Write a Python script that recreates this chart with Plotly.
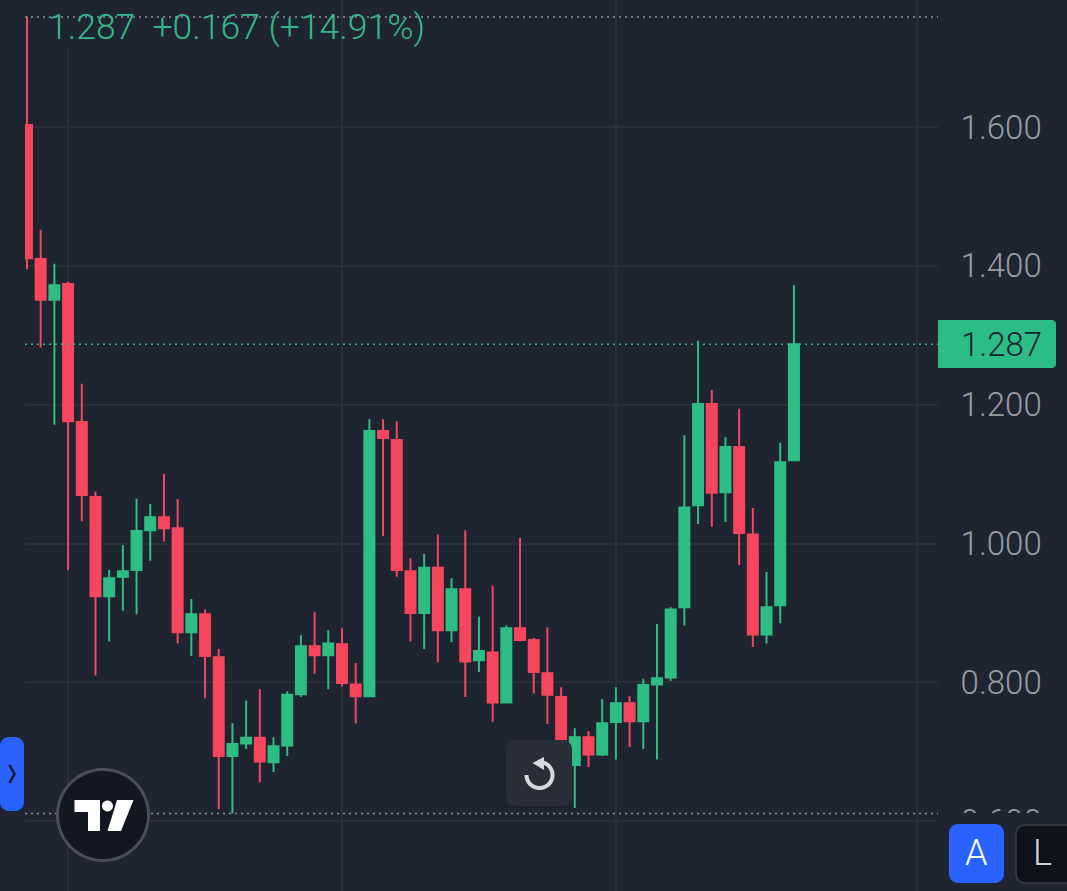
import numpy as np
import plotly.graph_objects as go

W, H = 1067, 891
BG = "#1e2430"
GRID = "#292e39"
UP = "#2ebd85"
DOWN = "#f6465d"

x_index = list(range(57))
open_ = [1.603,1.410,1.351,1.374,1.175,1.067,0.924,0.952,0.962,1.019,1.038,1.022,0.872,0.898,0.836,0.694,0.712,0.720,0.685,0.709,0.783,0.852,0.839,0.855,0.797,0.780,1.162,1.149,0.960,0.900,0.965,0.875,0.934,0.832,0.843,0.771,0.878,0.861,0.813,0.779,0.681,0.721,0.696,0.743,0.770,0.744,0.797,0.807,0.908,1.055,1.201,1.074,1.139,1.013,0.869,0.911,1.120]
high = [1.759,1.452,1.403,1.377,1.230,1.075,0.962,0.998,1.065,1.057,1.100,1.064,0.920,0.905,0.848,0.741,0.774,0.790,0.721,0.787,0.868,0.901,0.875,0.878,0.828,1.179,1.179,1.176,0.979,0.985,1.013,0.950,1.019,0.895,0.939,0.882,1.008,0.864,0.879,0.793,0.734,0.730,0.776,0.793,0.780,0.805,0.884,0.908,1.156,1.292,1.221,1.153,1.194,1.051,0.959,1.145,1.372]
low = [1.395,1.282,1.171,0.962,1.032,0.810,0.859,0.903,0.898,0.975,1.003,0.856,0.838,0.777,0.617,0.611,0.704,0.656,0.671,0.694,0.779,0.812,0.790,0.794,0.741,0.779,1.011,0.952,0.859,0.848,0.829,0.858,0.779,0.815,0.743,0.770,0.859,0.784,0.740,0.717,0.619,0.678,0.694,0.689,0.707,0.704,0.689,0.802,0.882,1.028,1.024,1.031,0.969,0.851,0.856,0.885,1.119]
close = [1.411,1.351,1.372,1.176,1.070,0.924,0.950,0.960,1.018,1.038,1.022,0.872,0.898,0.838,0.694,0.711,0.720,0.686,0.708,0.782,0.852,0.839,0.856,0.799,0.780,1.162,1.152,0.962,0.900,0.965,0.875,0.934,0.830,0.845,0.771,0.878,0.861,0.815,0.782,0.718,0.721,0.696,0.741,0.770,0.744,0.796,0.806,0.905,1.052,1.201,1.073,1.139,1.015,0.869,0.908,1.117,1.287]

y_ticks = [0.6, 0.8, 1.0, 1.2, 1.4, 1.6]
y_tick_labels = ["0.600", "0.800", "1.000", "1.200", "1.400", "1.600"]
x_grid = [3, 23, 43, 65]
last_price = 1.287
session_high = 1.7585
session_low = 0.611
legend_text = "1.287&nbsp;&nbsp;+0.167 (+14.91%)"


def px(v):
    return v / W


def py(v):
    return 1 - v / H


def poly(points, closed=True):
    d = "M" + " L".join(f"{px(a):.5f},{py(b):.5f}" for a, b in points)
    return d + (" Z" if closed else "")


def rrect(x0, y0, x1, y1, r, left=True, right=True):
    pts = []
    corners = [(x1 - r, y0 + r, -90, 0, right), (x1 - r, y1 - r, 0, 90, right),
               (x0 + r, y1 - r, 90, 180, left), (x0 + r, y0 + r, 180, 270, left)]
    for cx, cy, a0, a1, rounded in corners:
        if rounded:
            for a in np.radians(np.linspace(a0, a1, 9)):
                pts.append((cx + r * np.cos(a), cy + r * np.sin(a)))
        else:
            pts.append((cx + r * np.cos(np.radians(a0)) + r * np.cos(np.radians(a1)),
                        cy + r * np.sin(np.radians(a0)) + r * np.sin(np.radians(a1))))
    return poly(pts)


def arc(cx, cy, r, a0, a1, n=40):
    return [(cx + r * np.cos(a), cy + r * np.sin(a)) for a in np.radians(np.linspace(a0, a1, n))]


def pshape(path, fill=None, line=None, width=0):
    return dict(type="path", path=path, xref="paper", yref="paper", layer="above",
                fillcolor=fill or "rgba(0,0,0,0)",
                line=dict(color=line or "rgba(0,0,0,0)", width=width))


def hline(value, color):
    return dict(type="line", xref="paper", yref="y", x0=px(25), x1=px(938), y0=value, y1=value,
                layer="above", line=dict(color=color, width=1.6, dash="2px,4px"))


fig = go.Figure(go.Candlestick(
    x=x_index, open=open_, high=high, low=low, close=close,
    whiskerwidth=0,
    increasing=dict(line=dict(color=UP, width=2), fillcolor=UP),
    decreasing=dict(line=dict(color=DOWN, width=2), fillcolor=DOWN),
    hoverinfo="skip", showlegend=False,
))

shapes = [
    # panel that hides the lowest scale label
    pshape(poly([(938, 813), (W, 813), (W, H), (938, H)]), fill=BG),
    # legend backdrop over the first vertical grid line
    pshape(poly([(60, 0), (76, 0), (76, 48), (60, 48)]), fill=BG),
    hline(session_high, "#8f949e"),
    hline(session_low, "#8f949e"),
    hline(last_price, "#39b98e"),
    # price tag
    pshape(rrect(938, 320, 1056, 368, 4, left=False), fill="#2bbd85"),
    # side tab
    pshape(rrect(0, 737, 24, 811, 9), fill="#2962ff"),
    pshape(poly([(9.5, 765), (14.5, 774), (9.5, 783)], closed=False), line="#131722", width=2.5),
    # logo
    pshape(poly(arc(103, 815, 45.5, 0, 360, 90)), fill="#131722", line="#4a4e58", width=3),
    pshape(poly([(74.5, 800), (100, 800), (100, 831), (88, 831), (88, 812), (74.5, 812)]), fill="#ffffff"),
    pshape(poly(arc(107.5, 806, 5.5, 0, 360, 30)), fill="#ffffff"),
    pshape(poly([(117, 800), (133.5, 800), (121, 831), (107.5, 831)]), fill="#ffffff"),
    # reset button
    pshape(rrect(506, 740, 572, 806, 9), fill="#2a2e39"),
    pshape(poly(arc(539.5, 775, 13, -80, 180), closed=False), line="#d7dae2", width=4),
    pshape(poly([(532.5, 763), (544, 757), (544, 770)]), fill="#d7dae2"),
    # scale mode buttons
    pshape(rrect(949, 824, 1004, 883, 9), fill="#2962ff"),
    pshape(rrect(1016, 825, 1076, 883, 9), fill="#0d1119", line="#3a3e48", width=1.5),
]

FONT = "Roboto"
LABEL = "#969ca8"
annotations = [
    dict(text=legend_text, xref="paper", yref="paper", x=px(45.5), y=py(27), xanchor="left", yanchor="middle",
         showarrow=False, font=dict(family=FONT, size=35.5, color="#36b88c", weight=300)),
    dict(text="1.800", xref="paper", yref="paper", x=px(1001), y=py(-12), xanchor="center", yanchor="middle",
         showarrow=False, font=dict(family=FONT, size=33, color=LABEL, weight=300)),
    dict(text="1.287", xref="paper", yref="paper", x=px(1001), y=py(344), xanchor="center", yanchor="middle",
         showarrow=False, font=dict(family=FONT, size=33, color="#1e2430", weight=300)),
    dict(text="A", xref="paper", yref="paper", x=px(976.5), y=py(853), xanchor="center", yanchor="middle",
         showarrow=False, font=dict(family=FONT, size=36, color="#ffffff", weight=300)),
    dict(text="L", xref="paper", yref="paper", x=px(1042), y=py(853), xanchor="center", yanchor="middle",
         showarrow=False, font=dict(family=FONT, size=36, color="#d1d4dc", weight=300)),
]

fig.update_layout(
    width=W, height=H, autosize=False,
    margin=dict(l=0, r=0, t=0, b=0),
    paper_bgcolor=BG, plot_bgcolor=BG,
    showlegend=False, boxgap=0.27, boxgroupgap=0,
    shapes=shapes, annotations=annotations,
    xaxis=dict(domain=[px(25), px(938)], range=[-0.146, 66.52], tickvals=x_grid, showticklabels=False,
               showgrid=True, gridcolor=GRID, gridwidth=1.5, zeroline=False, showline=False,
               ticks="", rangeslider=dict(visible=False), fixedrange=True),
    yaxis=dict(side="right", range=[0.4994, 1.783], tickvals=y_ticks, ticktext=y_tick_labels,
               showgrid=True, gridcolor=GRID, gridwidth=1.5, zeroline=False, showline=False,
               ticks="outside", ticklen=22, tickcolor="rgba(0,0,0,0)", ticklabelstandoff=-7,
               tickfont=dict(family=FONT, size=33, color=LABEL, weight=300), fixedrange=True),
)

fig.write_html("out.html", config=dict(displayModeBar=False),
               post_script="document.body.style.margin='0';document.body.style.overflow='hidden';")
